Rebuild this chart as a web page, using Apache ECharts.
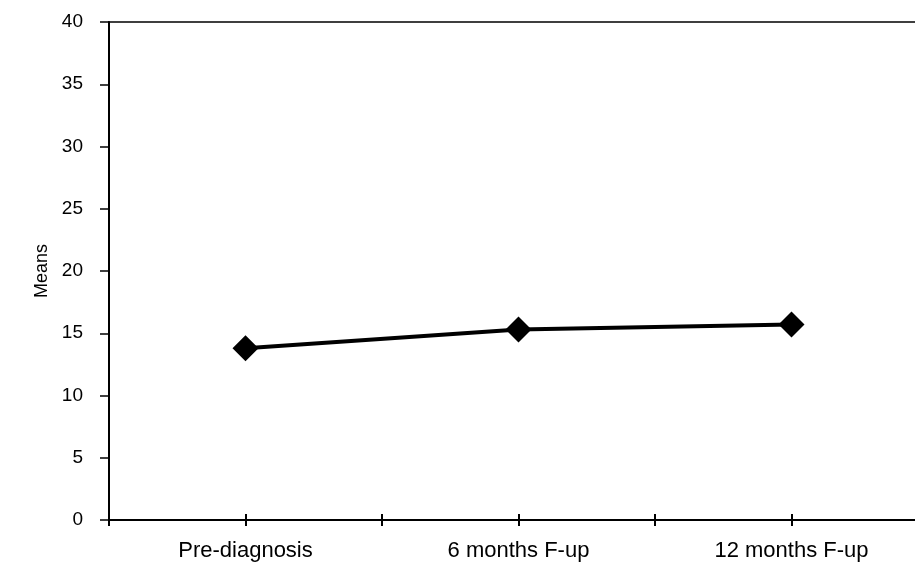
<!DOCTYPE html>
<html>
<head>
<meta charset="utf-8">
<script src="https://cdn.jsdelivr.net/npm/echarts@6/dist/echarts.min.js"></script>
<style>
html,body{margin:0;padding:0;background:#fff;overflow:hidden;}
#chart{width:915px;height:567px;}
</style>
</head>
<body>
<div id="chart"></div>
<script>
var categories = ['Pre-diagnosis', '6 months F-up', '12 months F-up'];
var means = [13.8, 15.3, 15.7];
var yTicks = { min: 0, max: 40, interval: 5 };
var yAxisName = 'Means';

var chart = echarts.init(document.getElementById('chart'), null, { renderer: 'canvas' });
var font = '"Liberation Sans", Arial, Helvetica, sans-serif';

function hiddenX(inside, align) {
  return {
    type: 'category',
    data: categories,
    position: 'bottom',
    boundaryGap: true,
    axisLine: { show: false },
    axisLabel: { show: false },
    splitLine: { show: false },
    axisTick: { show: true, inside: inside, alignWithLabel: align, length: 6, lineStyle: { color: '#000', width: 2 } }
  };
}

chart.setOption({
  animation: false,
  backgroundColor: '#fff',
  grid: {
    left: 109, top: 22, height: 498, width: 819,
    outerBoundsMode: 'none',
    containLabel: false,
    show: true, borderColor: '#000', borderWidth: 1.5, backgroundColor: 'transparent'
  },
  xAxis: [
    {
      type: 'category',
      data: categories,
      position: 'bottom',
      boundaryGap: true,
      axisLine: { show: true, lineStyle: { color: '#000', width: 2 } },
      axisTick: { show: true, length: 6, lineStyle: { color: '#000', width: 2 } },
      axisLabel: { color: '#000', fontSize: 22, fontFamily: font, margin: 20, interval: 0 },
      splitLine: { show: false }
    },
    hiddenX(true, false),
    hiddenX(false, true),
    hiddenX(true, true)
  ],
  yAxis: {
    type: 'value',
    min: yTicks.min, max: yTicks.max, interval: yTicks.interval,
    name: yAxisName,
    nameLocation: 'middle',
    nameGap: 52,
    nameTextStyle: { color: '#000', fontSize: 18, fontFamily: font },
    axisLine: { show: true, lineStyle: { color: '#000', width: 2 } },
    axisTick: { show: true, length: 9, lineStyle: { color: '#000', width: 1.5 } },
    axisLabel: { color: '#000', fontSize: 19, fontFamily: font, margin: 26 },
    splitLine: { show: false }
  },
  series: [{
    type: 'line',
    data: means,
    xAxisIndex: 0,
    symbol: 'diamond',
    symbolSize: [26, 26],
    lineStyle: { color: '#000', width: 4 },
    itemStyle: { color: '#000' }
  }]
});
</script>
</body>
</html>
